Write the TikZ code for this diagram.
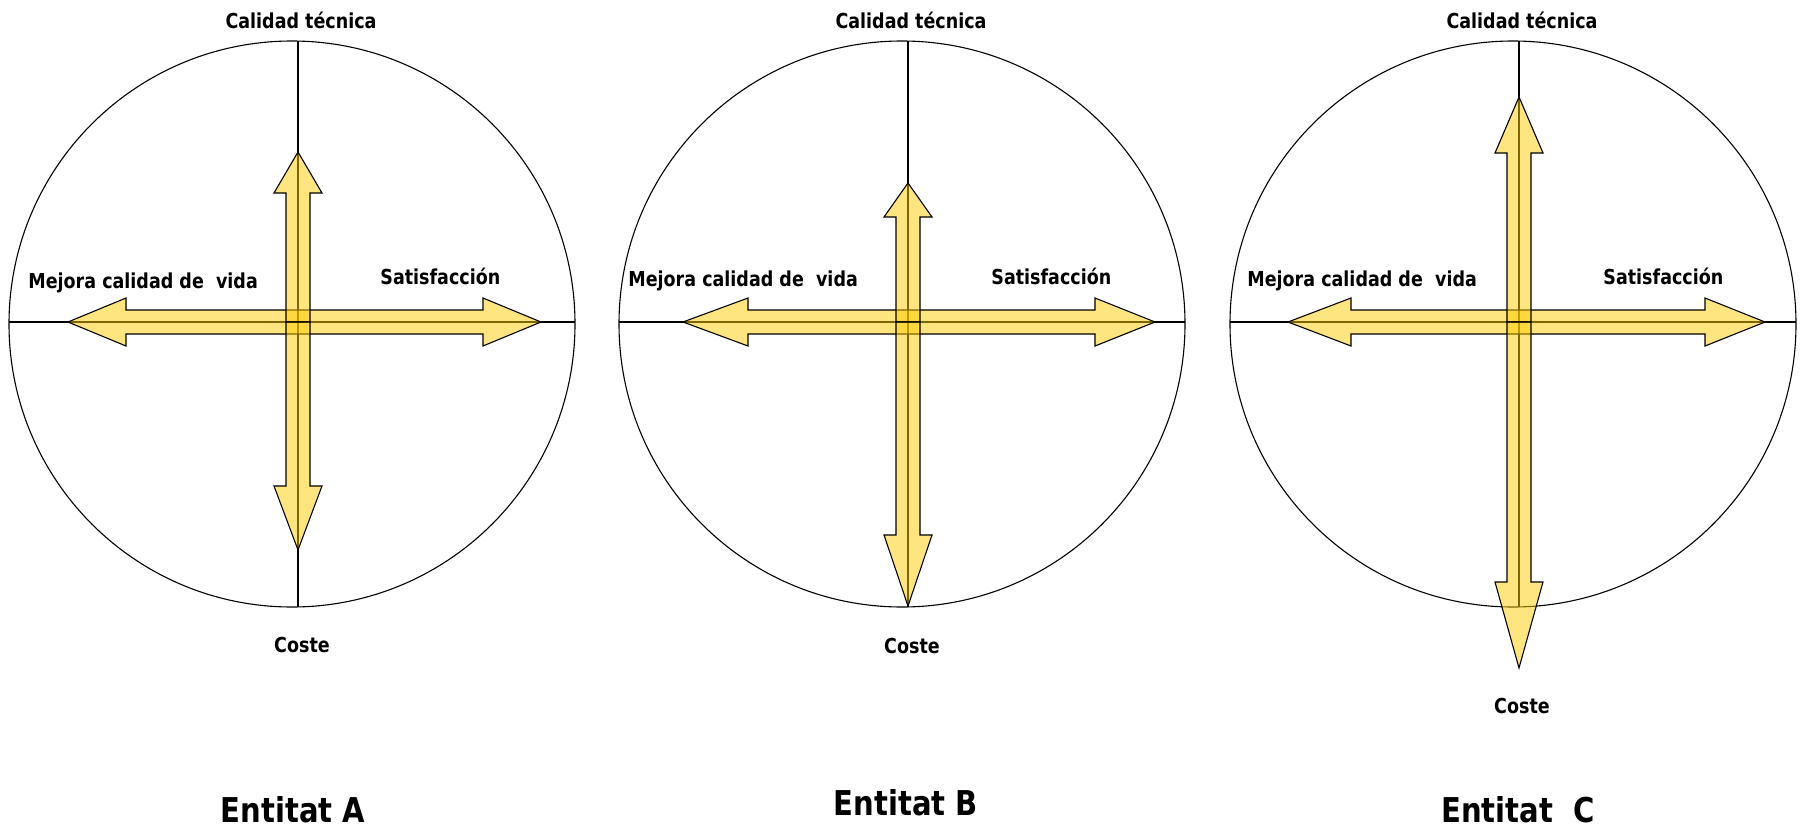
\documentclass[tikz,border=0pt]{standalone}
\usepackage{fontspec}
\newfontfamily\labfont[FakeStretch=0.85]{DejaVu Sans}
\definecolor{arrowfill}{RGB}{255,204,0}
% vertical single arrow from the centre: #1 = head base, #2 = tip (local y)
\newcommand\rkvarrow[2]{\filldraw[arrowbody] (-12,0) -- (-12,#1) -- (-24,#1) -- (0,#2) -- (24,#1) -- (12,#1) -- (12,0) -- cycle;}
% horizontal double arrow: #1 left tip, #2 left head base, #3 right head base, #4 right tip
\newcommand\rkharrow[4]{\filldraw[arrowbody] (#1,0) -- (#2,-24) -- (#2,-12) -- (#3,-12) -- (#3,-24) -- (#4,0) -- (#3,24) -- (#3,12) -- (#2,12) -- (#2,24) -- cycle;}
\begin{document}
\begin{tikzpicture}[x=0.5pt,y=-0.5pt,
  axisline/.style={draw=black,line width=0.55pt},
  ring/.style={draw=black,line width=0.55pt},
  arrowbody/.style={fill=arrowfill,fill opacity=0.5,draw=black,line width=0.55pt,line join=miter},
  lab/.style={font={\labfont\bfseries\fontsize{10.3}{12}\selectfont},inner sep=0pt,anchor=base},
  ttl/.style={font={\labfont\bfseries\fontsize{17.1}{20}\selectfont},inner sep=0pt,anchor=base}]
\fill[white] (0,0) rectangle (1800,830);
\useasboundingbox (0,0) rectangle (1800,830);

% ---------- Entitat A ----------
\begin{scope}[shift={(298,322)}]
  \coordinate (cA) at (-6,2);
  \coordinate (tA) at (0,-281);
  \coordinate (bA) at (0,285);
  \coordinate (lA) at (-289,0);
  \coordinate (rA) at (277,0);
  \draw[ring] (cA) circle[radius=283];
  \draw[axisline] (tA) -- (bA);
  \draw[axisline] (lA) -- (rA);
  \rkharrow{-230}{-172}{185}{243}
  \rkvarrow{-129}{-170}
  \rkvarrow{164}{228}
\end{scope}
\node[lab] (qA) at (301,28) {Calidad técnica};
\node[lab,anchor=base west] (mA) at (28,288) {Mejora calidad de\ \ vida};
\node[lab,anchor=base west] (sA) at (380,284) {Satisfacción};
\node[lab] (kA) at (302,652) {Coste};
\node[ttl] (eA) at (293,822) {Entitat A};

% ---------- Entitat B ----------
\begin{scope}[shift={(908,322)}]
  \coordinate (cB) at (-6,2);
  \coordinate (tB) at (0,-281);
  \coordinate (bB) at (0,285);
  \coordinate (lB) at (-289,0);
  \coordinate (rB) at (277,0);
  \draw[ring] (cB) circle[radius=283];
  \draw[axisline] (tB) -- (bB);
  \draw[axisline] (lB) -- (rB);
  \rkharrow{-225}{-160}{187}{247}
  \rkvarrow{-105}{-139}
  \rkvarrow{213}{284}
\end{scope}
\node[lab] (qB) at (911,28) {Calidad técnica};
\node[lab,anchor=base west] (mB) at (628,286) {Mejora calidad de\ \ vida};
\node[lab,anchor=base west] (sB) at (991,284) {Satisfacción};
\node[lab] (kB) at (912,653) {Coste};
\node[ttl] (eB) at (906,815) {Entitat B};

% ---------- Entitat C ----------
\begin{scope}[shift={(1519,322)}]
  \coordinate (cC) at (-6,2);
  \coordinate (tC) at (0,-281);
  \coordinate (bC) at (0,285);
  \coordinate (lC) at (-289,0);
  \coordinate (rC) at (277,0);
  \draw[ring] (cC) circle[radius=283];
  \draw[axisline] (tC) -- (bC);
  \draw[axisline] (lC) -- (rC);
  \rkharrow{-231}{-168}{186}{246}
  \rkvarrow{-169}{-225}
  \rkvarrow{260}{346}
\end{scope}
\node[lab] (qC) at (1522,28) {Calidad técnica};
\node[lab,anchor=base west] (mC) at (1247,286) {Mejora calidad de\ \ vida};
\node[lab,anchor=base west] (sC) at (1603,284) {Satisfacción};
\node[lab] (kC) at (1522,713) {Coste};
\node[ttl] (eC) at (1518,822) {Entitat\ \ C};
\end{tikzpicture}
\end{document}
